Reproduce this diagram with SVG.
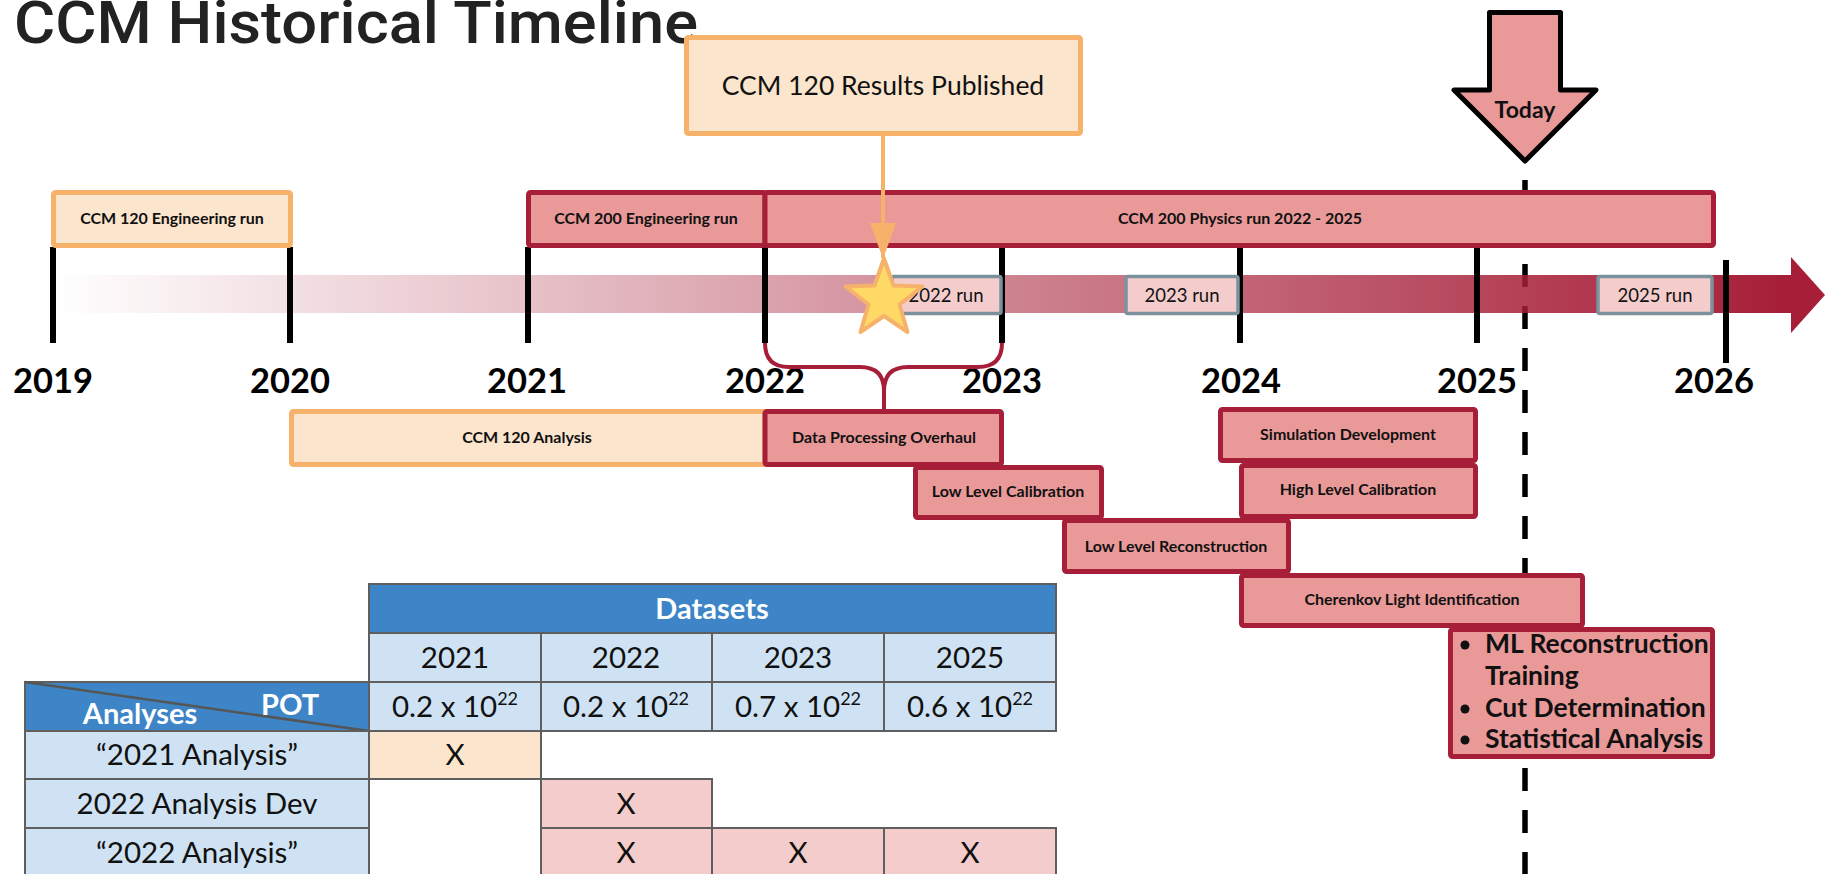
<svg xmlns="http://www.w3.org/2000/svg" width="1825" height="874" viewBox="0 0 1825 874">
<defs>
<linearGradient id="band" x1="52" y1="0" x2="1791" y2="0" gradientUnits="userSpaceOnUse">
<stop offset="0" stop-color="#A61E37" stop-opacity="0"/>
<stop offset="1" stop-color="#A61E37" stop-opacity="1"/>
</linearGradient>
<marker id="oarrow" markerWidth="36" markerHeight="26" refX="35" refY="13" orient="auto" markerUnits="userSpaceOnUse" viewBox="0 0 36 26">
<path d="M0,0 L36,13 L0,26 Z" fill="#F6B26B"/>
</marker>
<style>
.org{fill:#FCE5CD;stroke:#F6B26B;stroke-width:5}
.red{fill:#EA9999;stroke:#A61E37;stroke-width:5}
.run{fill:#F4CCCC;stroke:#7B929C;stroke-width:3.5}
.t{font-family:Lato,'Liberation Sans',sans-serif;fill:#111;text-anchor:middle}
.lbl{font-size:16px;font-weight:700}
.yr{font-size:34.5px;font-weight:700;fill:#000}
.tick{stroke:#000;stroke-width:6}
.cell{stroke:#5f5f5f;stroke-width:2}
.blue{fill:#3D85C6}
.lblue{fill:#CFE2F3}
.tc{font-size:29.5px}
.wh{fill:#fff;font-weight:700;font-size:29px}
</style>
</defs>
<rect width="1825" height="874" fill="#fff"/>
<text x="14" y="43" font-family="Roboto,'Liberation Sans',sans-serif" font-weight="500" font-size="59" fill="#222" textLength="684" lengthAdjust="spacingAndGlyphs">CCM Historical Timeline</text>

<line id="today-line" x1="1525" y1="180" x2="1525" y2="874" stroke="#000" stroke-width="5.5" stroke-dasharray="23 19"/>

<g id="timeline">
<rect x="52" y="275" width="1740" height="38" fill="url(#band)"/>
<path d="M1791,257 L1825,295 L1791,333 Z" fill="#A61E37"/>
</g>

<g id="ticks">
<line class="tick" x1="53" y1="247" x2="53" y2="343"/>
<line class="tick" x1="290" y1="247" x2="290" y2="343"/>
<line class="tick" x1="528" y1="247" x2="528" y2="343"/>
<line class="tick" x1="765" y1="247" x2="765" y2="343"/>
<line class="tick" x1="1002" y1="247" x2="1002" y2="343"/>
<line class="tick" x1="1240" y1="247" x2="1240" y2="343"/>
<line class="tick" x1="1477" y1="247" x2="1477" y2="343"/>
<line class="tick" x1="1726" y1="260" x2="1726" y2="363"/>
</g>
<g id="years">
<text class="t yr" x="53" y="393">2019</text>
<text class="t yr" x="290" y="393">2020</text>
<text class="t yr" x="527" y="393">2021</text>
<text class="t yr" x="765" y="393">2022</text>
<text class="t yr" x="1002" y="393">2023</text>
<text class="t yr" x="1241" y="393">2024</text>
<text class="t yr" x="1477" y="393">2025</text>
<text class="t yr" x="1714" y="393">2026</text>
</g>

<g id="ccm120-eng"><rect class="org" x="53.5" y="192.5" width="237" height="53" rx="2"/><text class="t lbl" x="172" y="224">CCM 120 Engineering run</text></g>
<g id="ccm200-eng"><rect class="red" x="528.5" y="192.5" width="236.5" height="53" rx="2"/><text class="t lbl" x="646" y="224">CCM 200 Engineering run</text></g>
<g id="ccm200-phys"><rect class="red" x="765" y="192.5" width="948.5" height="53" rx="2"/><text class="t lbl" x="1240" y="224">CCM 200 Physics run 2022 - 2025</text></g>

<g id="run2022"><rect class="run" x="892" y="276.5" width="109" height="37" rx="2"/><text class="t" font-size="18.5" x="946" y="302">2022 run</text></g>
<g id="run2023"><rect class="run" x="1126" y="276.5" width="112" height="37" rx="2"/><text class="t" font-size="18.5" x="1182" y="302">2023 run</text></g>
<g id="run2025"><rect class="run" x="1598" y="276.5" width="114" height="37" rx="2"/><text class="t" font-size="18.5" x="1655" y="302">2025 run</text></g>

<g id="published"><rect class="org" x="686.5" y="37.5" width="394" height="96" rx="2"/><text class="t" font-size="26.5" x="883" y="95">CCM 120 Results Published</text></g>

<g id="connectors">
<line x1="883" y1="136" x2="883" y2="258" stroke="#F6B26B" stroke-width="4" marker-end="url(#oarrow)"/>
<path d="M765,343 Q765,367 789,367 L860,367 Q884,367 884,391 L884,409 M1002,343 Q1002,367 978,367 L908,367 Q884,367 884,391" fill="none" stroke="#A61E37" stroke-width="4"/>
</g>

<g id="star"><path d="M884,258.5 L893.5,285.5 L922.5,286.5 L899.5,304.5 L907.5,332 L884,316 L860.5,332 L868.5,304.5 L845.5,286.5 L874.5,285.5 Z" fill="#FFD966" stroke="#F6B26B" stroke-width="4" stroke-linejoin="round"/></g>

<g id="today"><path d="M1489.5,12.5 L1560.5,12.5 L1560.5,90 L1596,90 L1525,161 L1454,90 L1489.5,90 Z" fill="#EA9999" stroke="#000" stroke-width="5" stroke-linejoin="round"/><text class="t" font-size="23" font-weight="700" x="1525" y="118">Today</text></g>

<g id="ccm120-analysis"><rect class="org" x="291.5" y="411.5" width="473.5" height="53" rx="2"/><text class="t lbl" x="527" y="443">CCM 120 Analysis</text></g>
<g id="dpo"><rect class="red" x="765" y="411.5" width="236.5" height="53" rx="2"/><text class="t lbl" x="884" y="443">Data Processing Overhaul</text></g>
<g id="llc"><rect class="red" x="915.5" y="467.5" width="186" height="50" rx="2"/><text class="t lbl" x="1008" y="497">Low Level Calibration</text></g>
<g id="simdev"><rect class="red" x="1220.5" y="409.5" width="255" height="51" rx="2"/><text class="t lbl" x="1348" y="440">Simulation Development</text></g>
<g id="hlc"><rect class="red" x="1241.5" y="465.5" width="234" height="51" rx="2"/><text class="t lbl" x="1358" y="495">High Level Calibration</text></g>
<g id="llr"><rect class="red" x="1064.5" y="520.5" width="224" height="51" rx="2"/><text class="t lbl" x="1176" y="552">Low Level Reconstruction</text></g>
<g id="cherenkov"><rect class="red" x="1241.5" y="575.5" width="341" height="50" rx="2"/><text class="t lbl" x="1412" y="605">Cherenkov Light Identification</text></g>
<g id="final"><rect class="red" x="1450.5" y="629.5" width="262" height="127" rx="2"/>
<g font-family="Lato,'Liberation Sans',sans-serif" font-weight="700" font-size="26.5" fill="#111">
<circle cx="1465" cy="645" r="4.5"/><text x="1485" y="653">ML Reconstruction</text>
<text x="1485" y="685">Training</text>
<circle cx="1465" cy="709" r="4.5"/><text x="1485" y="717">Cut Determination</text>
<circle cx="1465" cy="740" r="4.5"/><text x="1485" y="748">Statistical Analysis</text>
</g></g>

<g id="table">
<rect class="cell blue" x="369" y="584" width="687" height="49"/>
<text class="t wh" x="712" y="619">Datasets</text>
<rect class="cell lblue" x="369" y="633" width="172" height="49"/>
<rect class="cell lblue" x="541" y="633" width="171" height="49"/>
<rect class="cell lblue" x="712" y="633" width="172" height="49"/>
<rect class="cell lblue" x="884" y="633" width="172" height="49"/>
<text class="t tc" x="455" y="668">2021</text>
<text class="t tc" x="626" y="668">2022</text>
<text class="t tc" x="798" y="668">2023</text>
<text class="t tc" x="970" y="668">2025</text>
<rect class="cell blue" x="25" y="682" width="344" height="49"/>
<line x1="25" y1="682" x2="369" y2="731" stroke="#555" stroke-width="2.5"/>
<text class="t wh" x="140" y="724">Analyses</text>
<text class="t wh" x="290" y="715">POT</text>
<rect class="cell lblue" x="369" y="682" width="172" height="49"/>
<rect class="cell lblue" x="541" y="682" width="171" height="49"/>
<rect class="cell lblue" x="712" y="682" width="172" height="49"/>
<rect class="cell lblue" x="884" y="682" width="172" height="49"/>
<text class="t tc" x="455" y="717">0.2 x 10<tspan font-size="18" dy="-12">22</tspan></text>
<text class="t tc" x="626" y="717">0.2 x 10<tspan font-size="18" dy="-12">22</tspan></text>
<text class="t tc" x="798" y="717">0.7 x 10<tspan font-size="18" dy="-12">22</tspan></text>
<text class="t tc" x="970" y="717">0.6 x 10<tspan font-size="18" dy="-12">22</tspan></text>
<rect class="cell lblue" x="25" y="731" width="344" height="48"/>
<text class="t tc" x="197" y="765">“2021 Analysis”</text>
<rect class="cell" fill="#FCE5CD" x="369" y="731" width="172" height="48"/>
<text class="t tc" x="455" y="765">X</text>
<rect class="cell lblue" x="25" y="779" width="344" height="49"/>
<text class="t tc" x="197" y="814">2022 Analysis Dev</text>
<rect class="cell" fill="#F4CCCC" x="541" y="779" width="171" height="49"/>
<text class="t tc" x="626" y="814">X</text>
<rect class="cell lblue" x="25" y="828" width="344" height="50"/>
<text class="t tc" x="197" y="863">“2022 Analysis”</text>
<rect class="cell" fill="#F4CCCC" x="541" y="828" width="171" height="50"/>
<rect class="cell" fill="#F4CCCC" x="712" y="828" width="172" height="50"/>
<rect class="cell" fill="#F4CCCC" x="884" y="828" width="172" height="50"/>
<text class="t tc" x="626" y="863">X</text>
<text class="t tc" x="798" y="863">X</text>
<text class="t tc" x="970" y="863">X</text>
</g>
</svg>
